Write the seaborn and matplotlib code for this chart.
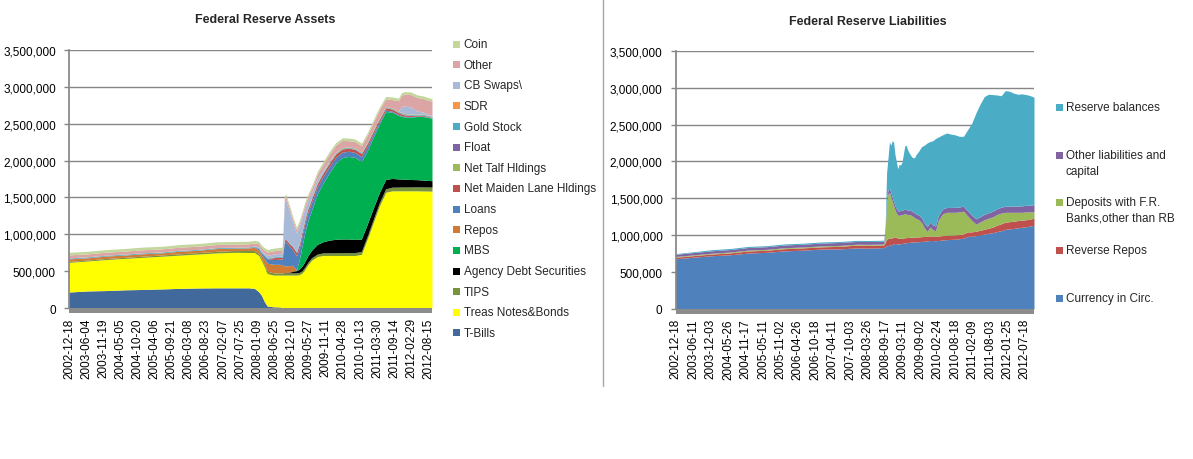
import pandas as pd
import matplotlib
matplotlib.use("Agg")
import matplotlib.pyplot as plt
import matplotlib.ticker as mticker
from matplotlib.patches import Rectangle
from matplotlib.lines import Line2D
import seaborn as sns

# values, in $ billions (the axis itself is in $ millions)

# ---- assets panel ----
asset_dates = [
    "2002-12-18", "2003-06-18", "2003-12-17", "2004-06-16", "2004-12-15",
    "2005-06-15", "2005-12-14", "2006-06-14", "2006-12-13", "2007-06-13",
    "2007-10-17", "2007-12-12", "2008-01-23", "2008-02-20", "2008-03-19",
    "2008-04-16", "2008-06-18", "2008-08-20", "2008-09-10", "2008-10-01",
    "2008-10-15", "2008-11-05", "2008-11-26", "2008-12-17", "2009-01-28",
    "2009-02-25", "2009-03-25", "2009-04-22", "2009-05-20", "2009-06-24",
    "2009-08-19", "2009-10-14", "2009-12-16", "2010-02-17", "2010-04-21",
    "2010-06-23", "2010-08-25", "2010-10-27", "2010-12-22", "2011-02-23",
    "2011-04-20", "2011-06-22", "2011-08-24", "2011-10-26", "2011-11-23",
    "2011-12-21", "2012-02-22", "2012-04-25", "2012-06-27", "2012-08-22",
    "2012-09-19",
]
t_bills = [220, 235, 240, 250, 255, 262, 270, 275, 277, 277,
           277, 270, 225, 175, 90, 30, 20, 18, 0, 0,
           0, 0, 0, 0, 0, 0, 0, 0, 0, 0,
           0, 0, 0, 0, 0, 0, 0, 0, 0, 0,
           0, 0, 0, 0, 0, 0, 0, 0, 0, 0,
           0]
treas_notes = [402, 405, 420, 425, 435, 443, 450, 460, 473, 481,
               478, 485, 490, 465, 470, 440, 430, 432, 450, 450,
               450, 450, 450, 450, 450, 455, 480, 530, 590, 650,
               700, 715, 715, 715, 715, 715, 715, 730, 930, 1170,
               1380, 1570, 1590, 1590, 1590, 1590, 1590, 1590, 1588, 1587,
               1585]
tips = [12, 13, 14, 15, 16, 17, 18, 20, 22, 25,
        27, 28, 28, 29, 29, 30, 30, 30, 30, 30,
        30, 30, 30, 30, 31, 31, 32, 32, 33, 33,
        34, 35, 36, 37, 38, 38, 39, 40, 42, 44,
        46, 48, 50, 51, 52, 52, 53, 54, 55, 55,
        56]
agency_debt = [0, 0, 0, 0, 0, 0, 0, 0, 0, 0,
               0, 0, 0, 0, 0, 0, 0, 0, 0, 3,
               5, 8, 12, 18, 28, 45, 60, 75, 90, 100,
               130, 150, 172, 182, 185, 185, 178, 168, 160, 150,
               135, 125, 118, 110, 108, 106, 100, 97, 92, 88,
               86]
mbs = [0, 0, 0, 0, 0, 0, 0, 0, 0, 0,
       0, 0, 0, 0, 0, 0, 0, 0, 0, 0,
       0, 0, 0, 0, 10, 130, 280, 400, 470, 540,
       680, 790, 910, 1030, 1100, 1118, 1110, 1050, 995, 960,
       930, 920, 895, 860, 850, 840, 845, 855, 860, 850,
       845]
repos = [35, 30, 33, 30, 32, 28, 35, 30, 38, 30,
         35, 42, 45, 50, 80, 110, 115, 115, 110, 90,
         90, 90, 85, 85, 0, 0, 0, 0, 0, 0,
         0, 0, 0, 0, 0, 0, 0, 0, 0, 0,
         0, 0, 0, 0, 0, 0, 0, 0, 0, 0,
         0]
loans = [0, 0, 0, 0, 0, 0, 0, 0, 0, 0,
         0, 5, 20, 30, 40, 60, 65, 70, 75, 320,
         330, 290, 250, 215, 190, 160, 140, 125, 115, 105,
         95, 90, 85, 80, 75, 70, 68, 66, 60, 45,
         30, 20, 15, 12, 10, 10, 8, 6, 5, 4,
         3]
maiden_lane = [0, 0, 0, 0, 0, 0, 0, 0, 0, 0,
               0, 0, 0, 0, 0, 0, 25, 25, 25, 28,
               28, 30, 35, 40, 45, 45, 45, 45, 45, 45,
               45, 45, 45, 45, 42, 42, 40, 40, 38, 35,
               32, 30, 28, 25, 22, 20, 15, 12, 10, 8,
               8]
talf = [0, 0, 0, 0, 0, 0, 0, 0, 0, 0,
        0, 0, 0, 0, 0, 0, 0, 0, 0, 0,
        0, 0, 0, 0, 0, 0, 1, 2, 3, 3,
        4, 4, 4, 4, 4, 4, 4, 4, 4, 4,
        4, 3, 3, 3, 3, 3, 2, 2, 1, 1,
        1]
float_ = [1, 1, 0, 1, 1, 0, 1, 1, 0, 1,
          1, 1, 2, 1, 1, 0, 1, 1, 1, 2,
          1, 1, 1, 2, 1, 1, 1, 0, 1, 1,
          1, 0, 1, 1, 1, 0, 1, 1, 1, 0,
          1, 1, 0, 1, 1, 1, 0, 1, 1, 1,
          1]
gold = [11, 11, 11, 11, 11, 11, 11, 11, 11, 11,
        11, 11, 11, 11, 11, 11, 11, 11, 11, 11,
        11, 11, 11, 11, 11, 11, 11, 11, 11, 11,
        11, 11, 11, 11, 11, 11, 11, 11, 11, 11,
        11, 11, 11, 11, 11, 11, 11, 11, 11, 11,
        11]
sdr = [2, 2, 2, 2, 2, 2, 2, 2, 2, 2,
       2, 2, 2, 2, 2, 2, 2, 2, 2, 2,
       2, 2, 2, 2, 2, 2, 2, 2, 2, 2,
       5, 5, 5, 5, 5, 5, 5, 5, 5, 5,
       5, 5, 5, 5, 5, 5, 5, 5, 5, 5,
       5]
cb_swaps = [0, 0, 0, 0, 0, 0, 0, 0, 0, 0,
            0, 0, 10, 15, 20, 35, 35, 40, 45, 500,
            520, 460, 410, 330, 250, 230, 180, 140, 100, 70,
            50, 30, 12, 2, 0, 1, 0, 0, 0, 0,
            0, 0, 0, 1, 80, 100, 95, 40, 25, 12,
            8]
other = [40, 40, 40, 40, 41, 41, 41, 42, 42, 42,
         42, 40, 40, 40, 42, 43, 45, 45, 45, 45,
         45, 45, 45, 45, 45, 45, 48, 50, 52, 55,
         60, 70, 90, 95, 95, 80, 85, 85, 90, 100,
         110, 100, 110, 140, 150, 160, 170, 180, 185, 190,
         195]
coin = [35, 35, 34, 35, 36, 35, 35, 36, 35, 35,
        35, 35, 34, 35, 35, 35, 35, 35, 35, 35,
        35, 35, 35, 35, 35, 35, 35, 35, 35, 35,
        35, 35, 35, 35, 35, 35, 35, 35, 35, 35,
        35, 35, 35, 35, 35, 35, 35, 35, 35, 35,
        35]

# ---- liabilities panel ----
liab_dates = [
    "2002-12-18", "2003-06-18", "2003-12-17", "2004-06-16", "2004-12-15",
    "2005-06-15", "2005-12-14", "2006-06-14", "2006-12-13", "2007-06-13",
    "2007-12-12", "2008-03-19", "2008-06-18", "2008-09-03", "2008-09-17",
    "2008-10-01", "2008-10-15", "2008-10-29", "2008-11-12", "2008-11-26",
    "2008-12-10", "2008-12-24", "2009-01-07", "2009-01-21", "2009-02-04",
    "2009-02-18", "2009-03-04", "2009-03-18", "2009-04-01", "2009-04-15",
    "2009-04-29", "2009-05-13", "2009-05-27", "2009-06-10", "2009-06-24",
    "2009-07-08", "2009-07-22", "2009-08-19", "2009-09-16", "2009-10-14",
    "2009-11-11", "2009-12-09", "2010-01-06", "2010-02-03", "2010-03-03",
    "2010-04-14", "2010-05-26", "2010-07-07", "2010-08-18", "2010-09-29",
    "2010-11-10", "2010-12-22", "2011-02-02", "2011-03-16", "2011-04-27",
    "2011-06-08", "2011-07-20", "2011-08-31", "2011-10-12", "2011-11-23",
    "2012-01-04", "2012-02-15", "2012-03-28", "2012-05-09", "2012-06-20",
    "2012-08-01", "2012-09-12", "2012-10-17",
]
currency = [680, 702, 722, 735, 758, 768, 788, 797, 812, 814,
            828, 824, 828, 832, 845, 855, 860, 865, 870, 875,
            882, 888, 885, 880, 882, 885, 888, 892, 895, 898,
            900, 902, 905, 907, 908, 910, 910, 912, 915, 918,
            922, 928, 928, 925, 928, 935, 940, 943, 945, 952,
            960, 985, 985, 995, 1005, 1015, 1025, 1035, 1050, 1060,
            1080, 1085, 1092, 1100, 1108, 1115, 1125, 1135]
reverse_repos = [21, 22, 23, 25, 28, 28, 30, 31, 30, 35,
                 38, 40, 38, 36, 60, 90, 95, 95, 90, 90,
                 90, 90, 85, 80, 75, 72, 70, 70, 70, 70,
                 68, 68, 68, 66, 66, 65, 65, 65, 65, 65,
                 65, 62, 60, 60, 60, 60, 58, 58, 58, 58,
                 58, 60, 60, 60, 62, 65, 70, 75, 85, 95,
                 98, 98, 98, 98, 96, 95, 95, 95]
deposits = [10, 10, 11, 12, 12, 12, 12, 12, 12, 12,
            12, 12, 12, 12, 150, 505, 605, 620, 560, 495,
            428, 362, 330, 310, 313, 318, 322, 323, 325, 317,
            312, 310, 302, 292, 276, 265, 250, 233, 190, 117,
            63, 120, 87, 75, 212, 295, 312, 309, 307, 305,
            307, 215, 155, 95, 113, 130, 135, 140, 145, 145,
            132, 127, 120, 112, 106, 105, 95, 90]
other_liab = [30, 32, 33, 34, 35, 36, 37, 38, 39, 40,
              38, 38, 38, 38, 45, 50, 55, 58, 58, 58,
              58, 58, 60, 60, 60, 60, 60, 62, 62, 62,
              62, 62, 62, 62, 62, 62, 62, 63, 63, 63,
              65, 65, 65, 65, 65, 66, 66, 66, 68, 68,
              68, 70, 70, 72, 72, 74, 75, 76, 78, 80,
              82, 84, 85, 86, 88, 90, 92, 94]
reserves = [9, 10, 15, 14, 15, 14, 15, 14, 15, 14,
            14, 14, 14, 14, 50, 350, 435, 627, 642, 762,
            802, 692, 630, 570, 630, 615, 650, 753, 858, 873,
            818, 778, 753, 733, 738, 748, 803, 867, 967, 1057,
            1135, 1095, 1140, 1185, 1065, 1004, 1009, 994, 982, 957,
            947, 1100, 1250, 1438, 1528, 1596, 1605, 1579, 1542, 1510,
            1568, 1556, 1530, 1514, 1517, 1500, 1483, 1456]

left_ticks = ["2002-12-18", "2003-06-04", "2003-11-19", "2004-05-05", "2004-10-20",
              "2005-04-06", "2005-09-21", "2006-03-08", "2006-08-23", "2007-02-07",
              "2007-07-25", "2008-01-09", "2008-06-25", "2008-12-10", "2009-05-27",
              "2009-11-11", "2010-04-28", "2010-10-13", "2011-03-30", "2011-09-14",
              "2012-02-29", "2012-08-15"]
right_ticks = ["2002-12-18", "2003-06-11", "2003-12-03", "2004-05-26", "2004-11-17",
               "2005-05-11", "2005-11-02", "2006-04-26", "2006-10-18", "2007-04-11",
               "2007-10-03", "2008-03-26", "2008-09-17", "2009-03-11", "2009-09-02",
               "2010-02-24", "2010-08-18", "2011-02-09", "2011-08-03", "2012-01-25",
               "2012-07-18"]

# stack order bottom -> top
assets = pd.DataFrame({
    "date": pd.to_datetime(asset_dates),
    "T-Bills": t_bills,
    "Treas Notes&Bonds": treas_notes,
    "TIPS": tips,
    "Agency Debt Securities": agency_debt,
    "MBS": mbs,
    "Repos": repos,
    "Loans": loans,
    "Net Maiden Lane Hldings": maiden_lane,
    "Net Talf Hldings": talf,
    "Float": float_,
    "Gold Stock": gold,
    "SDR": sdr,
    "CB Swaps\\": cb_swaps,
    "Other": other,
    "Coin": coin,
})
asset_colors = ["#41699B", "#FFFF00", "#77933C", "#000000", "#00B050", "#D17A36",
                "#4F81BD", "#C0504D", "#9BBB59", "#8064A2", "#4BACC6", "#F79646",
                "#A9B9D8", "#DBA5A6", "#C3D69B"]

liabs = pd.DataFrame({
    "date": pd.to_datetime(liab_dates),
    "Currency in Circ.": currency,
    "Reverse Repos": reverse_repos,
    "Deposits with F.R.\nBanks,other than RB": deposits,
    "Other liabilities and\ncapital": other_liab,
    "Reserve balances": reserves,
})
liab_colors = ["#4F81BD", "#C0504D", "#9BBB59", "#8064A2", "#4BACC6"]

sns.set_theme(style="white")
plt.rcParams["font.family"] = ["Liberation Sans", "DejaVu Sans"]

W, H = 1193, 460
fig = plt.figure(figsize=(W / 100, H / 100), dpi=100)


def panel(rect, df, colors, ticks):
    ax = fig.add_axes(rect)
    cols = [c for c in df.columns if c != "date"]
    pal = sns.color_palette(colors)
    ax.stackplot(df["date"], *[df[c] * 1000 for c in cols], colors=pal, linewidth=0)
    ax.set_xlim(df["date"].iloc[0], df["date"].iloc[-1])
    ax.set_ylim(0, 3500000)
    ax.set_yticks(range(0, 3500001, 500000))
    ax.yaxis.set_major_formatter(mticker.FuncFormatter(lambda v, p: f"{v:,.0f}"))
    ax.set_xticks(pd.to_datetime(ticks))
    ax.set_xticklabels(ticks, rotation=90, fontsize=8.5)
    ax.tick_params(axis="x", length=0, pad=6.5, colors="black")
    ax.tick_params(axis="y", length=3.5, width=1, color="#868686", pad=6,
                   labelsize=8.5, labelcolor="black", left=True)
    ax.grid(axis="y", color="#868686", linewidth=1)
    ax.grid(axis="x", visible=False)
    ax.set_axisbelow(True)
    for s in ["top", "right", "bottom"]:
        ax.spines[s].set_visible(False)
    ax.spines["left"].set_color("#868686")
    # grey floor under the plot area
    ax.add_patch(Rectangle((0, -0.02), 1, 0.02, transform=ax.transAxes,
                           clip_on=False, facecolor="#8C8C8C", edgecolor="none"))
    ax.set_xlabel("")
    ax.set_ylabel("")
    return ax


ax1 = panel([69 / W, 1 - 309.3 / H, (432 - 69) / W, (309.3 - 50.7) / H],
            assets, asset_colors, left_ticks)
ax2 = panel([675.7 / W, 1 - 310 / H, (1034 - 675.7) / W, (310 - 51.7) / H],
            liabs, liab_colors, right_ticks)

fig.text(265 / W, 1 - 20 / H, "Federal Reserve Assets", ha="center", va="center",
         fontsize=9, fontweight="bold")
fig.text(868 / W, 1 - 22 / H, "Federal Reserve Liabilities", ha="center", va="center",
         fontsize=9, fontweight="bold")

# divider between the two charts
fig.add_artist(Line2D([603.3 / W, 603.3 / W], [1, 1 - 386.7 / H],
                      transform=fig.transFigure, color="#A6A6A6", linewidth=1))


def legend(labels, colors, x_sq, x_txt, ys, line_gap=16):
    for lab, col, y in zip(labels, colors, ys):
        fig.add_artist(Rectangle((x_sq / W, 1 - (y + 3.5) / H), 7 / W, 7 / H,
                                 transform=fig.transFigure, facecolor=col,
                                 edgecolor="none"))
        for i, line in enumerate(lab.split("\n")):
            fig.text(x_txt / W, 1 - (y + i * line_gap) / H, line, ha="left",
                     va="center", fontsize=8.5)


a_cols = [c for c in assets.columns if c != "date"]
legend(a_cols[::-1], asset_colors[::-1], 452.5, 463.5,
       [45 + 20.64 * i for i in range(len(a_cols))])

l_cols = [c for c in liabs.columns if c != "date"]
legend(l_cols[::-1], liab_colors[::-1], 1056, 1065.5, [108, 156, 203, 251, 299])

fig.savefig("out.png", dpi=100)
